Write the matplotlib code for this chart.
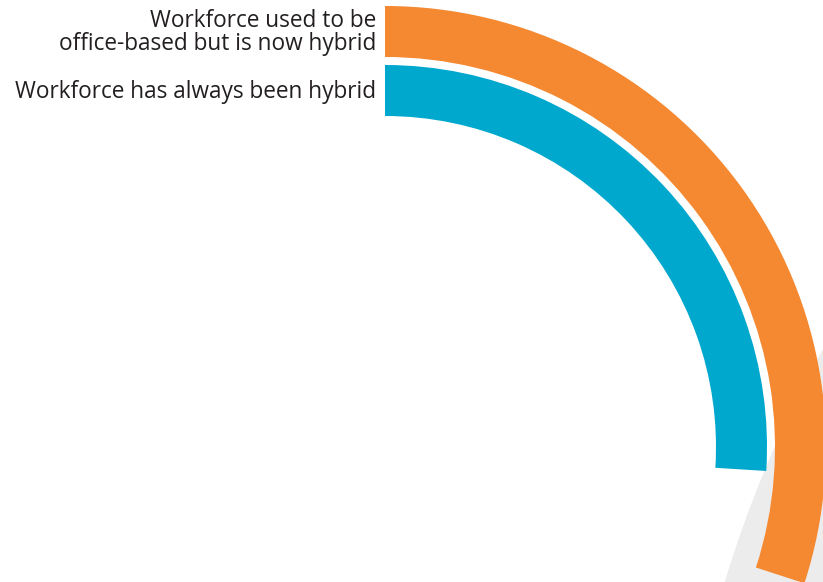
import matplotlib.pyplot as plt
from matplotlib.patches import Wedge, Circle

# share of respondents, percent of a full turn
labels = ['Workforce used to be\noffice-based but is now hybrid',
          'Workforce has always been hybrid']
values = [30, 26]
colors = ['#F48931', '#00A8CE']

CX, CY = 385, 447          # ring centre (pixel space)
R_OUTER = 441
BAND = 51
GAP = 8

fig = plt.figure(figsize=(8.23, 5.82), dpi=100)
ax = fig.add_axes([0, 0, 1, 1])
ax.set_xlim(0, 823)
ax.set_ylim(582, 0)
ax.set_aspect('equal')
ax.axis('off')

# pale backdrop shape in the lower right corner
ax.add_patch(Circle((1877, 931), 1204, facecolor='#ECECEC', edgecolor='none', zorder=0))

for i, (lab, val, col) in enumerate(zip(labels, values, colors)):
    r = R_OUTER - i * (BAND + GAP)
    sweep = 360 * val / 100
    ax.add_patch(Wedge((CX, CY), r, -90, -90 + sweep, width=BAND,
                       facecolor=col, edgecolor='none', zorder=2))
    ax.text(CX - 9, CY - r + BAND / 2 + 1, lab, ha='right', va='center',
            fontsize=16.3, family='Open Sans', color='#231F20',
            linespacing=0.95, multialignment='right')

fig.savefig('out.png', dpi=100)
